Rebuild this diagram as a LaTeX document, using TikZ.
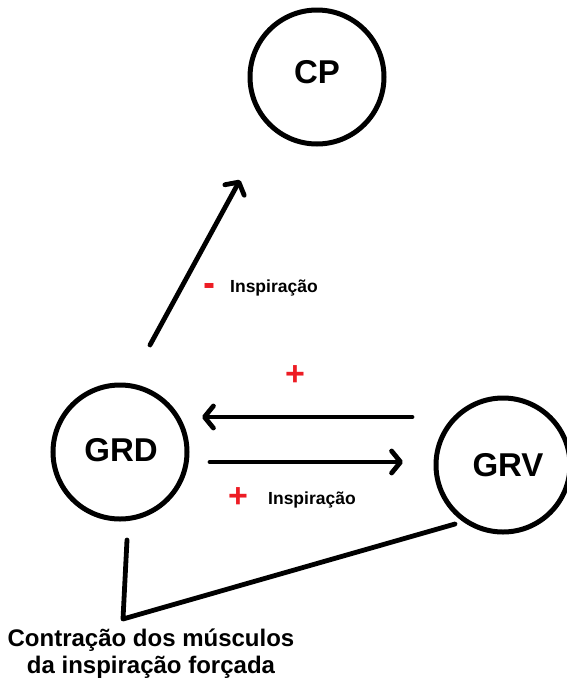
\documentclass[tikz,border=0pt]{standalone}
\usepackage{fontspec}
\usepackage{graphicx}
\setmainfont{Liberation Sans}
\usetikzlibrary{arrows.meta}
\definecolor{signred}{RGB}{237,28,36}
\begin{document}
\begin{tikzpicture}[x=1pt,y=-1pt,
  state/.style={circle,draw,line width=5pt,minimum size=134pt,inner sep=0pt},
  statename/.style={font=\fontsize{33}{33}\selectfont\bfseries,inner sep=0pt},
  link/.style={line width=4.8pt,line cap=round,line join=round},
  arr/.style={link,-{Straight Barb[length=9pt,width=22pt,round]}},
  sign/.style={text=signred,font=\fontsize{34}{34}\selectfont\bfseries,inner sep=0pt},
  note/.style={font=\fontsize{17.5}{17.5}\selectfont\bfseries,inner sep=0pt,anchor=base west},
  caption/.style={font=\fontsize{24}{27}\selectfont\bfseries,align=center,inner sep=0pt}]
\useasboundingbox (0,0) rectangle (567,681);

% the three centres
\node[state] (cp)  at (317,77)  {};
\node[state] (grd) at (120,452) {};
\node[state] (grv) at (503,465) {};
\node[statename] (cpname)  at (317,72)  {CP};
\node[statename] (grdname) at (121,450) {GRD};
\node[statename] (grvname) at (508,465) {GRV};

% GRD -> CP
\coordinate (up0) at (150,345);
\coordinate (up1) at (240,180);
\draw[arr] (up0) -- (up1);
\node[sign,font=\fontsize{18}{18}\selectfont\bfseries] (minus) at (210,291) {\scalebox{1}[2.8]{–}};
\node[note] (inspA) at (230,292) {Inspiração};

% GRV -> GRD
\coordinate (back0) at (412,417);
\coordinate (back1) at (202,417);
\draw[arr] (back0) -- (back1);
\node[sign] (plusA) at (295,376) {+};

% GRD -> GRV
\coordinate (fwd0) at (210,462);
\coordinate (fwd1) at (403,462);
\draw[arr] (fwd0) -- (fwd1);
\node[sign] (plusB) at (238,498) {+};
\node[note] (inspB) at (268,504) {Inspiração};

% both centres joined to the muscles
\coordinate (m0) at (127,540);
\coordinate (m1) at (123,619);
\coordinate (m2) at (455,524);
\draw[link] (m0) -- (m1) -- (m2);
\node[caption] (muscles) at (151,654) {Contração dos músculos\\da inspiração forçada};
\end{tikzpicture}
\end{document}
